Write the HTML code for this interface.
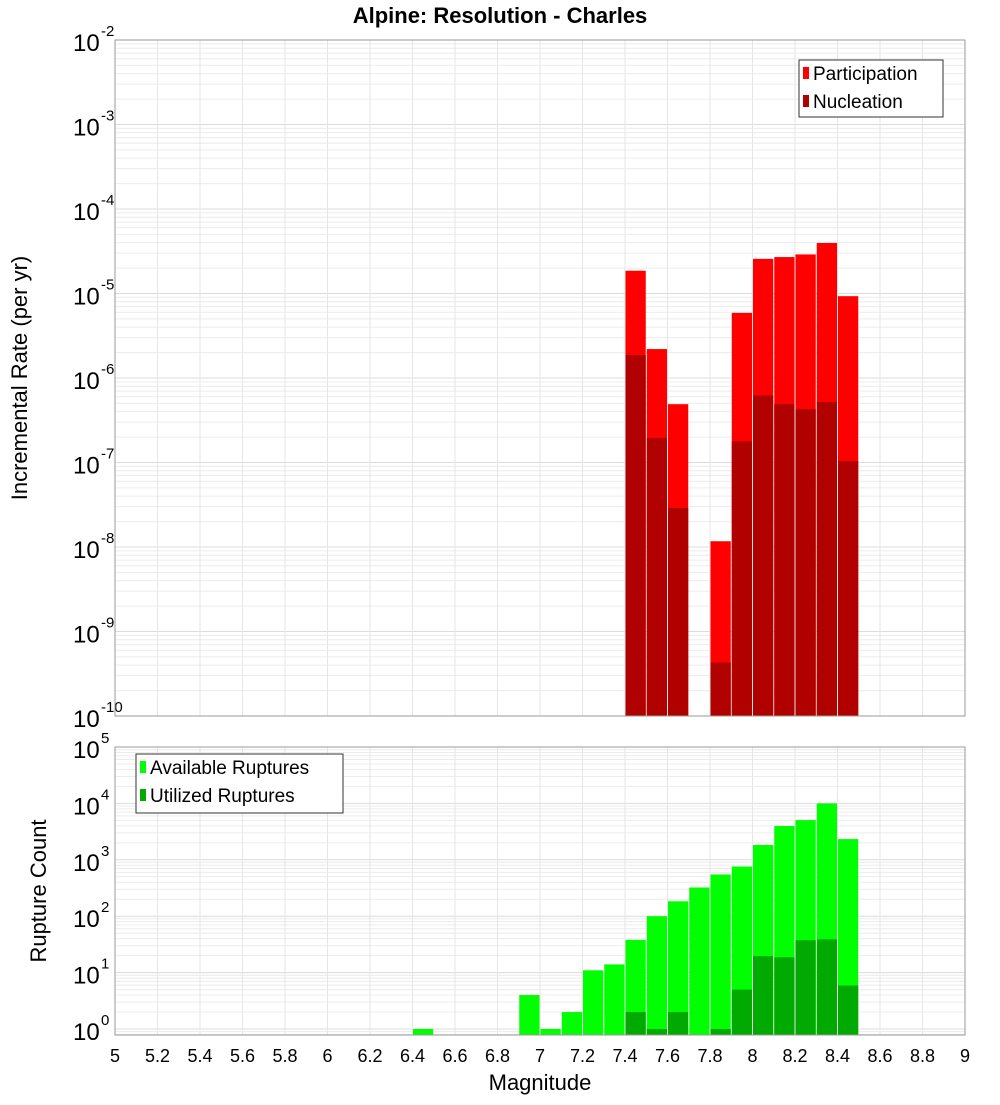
<!DOCTYPE html>
<html><head><meta charset="utf-8"><style>
body{margin:0;background:#fff;}
svg text{font-family:"Liberation Sans","DejaVu Sans",sans-serif;fill:#000;}
</style></head><body>
<svg id="chart" width="1000" height="1100" xmlns="http://www.w3.org/2000/svg">
<rect width="1000" height="1100" fill="#fff"/>
<text x="500" y="23" font-size="22" font-weight="bold" text-anchor="middle">Alpine: Resolution - Charles</text>
<g id="topPanel"></g>
<g id="botPanel"></g>
<text transform="translate(27,378) rotate(-90)" font-size="22" text-anchor="middle">Incremental Rate (per yr)</text>
<text transform="translate(46,891) rotate(-90)" font-size="22" text-anchor="middle">Rupture Count</text>
<text x="540" y="1090" font-size="22" text-anchor="middle">Magnitude</text>
</svg>
<script>
const mags=[7.45,7.55,7.65,7.85,7.95,8.05,8.15,8.25,8.35,8.45];
const participation=[1.86e-5,2.2e-6,4.9e-7,1.17e-8,5.9e-6,2.57e-5,2.7e-5,2.9e-5,3.96e-5,9.3e-6];
const nucleation=[1.87e-6,1.95e-7,2.9e-8,4.3e-10,1.78e-7,6.2e-7,4.9e-7,4.3e-7,5.2e-7,1.04e-7];
const countMags=[6.45,6.95,7.05,7.15,7.25,7.35,7.45,7.55,7.65,7.75,7.85,7.95,8.05,8.15,8.25,8.35,8.45];
const available=[1,4,1,2,11,14,38,100,184,323,550,760,1830,3970,5060,10000,2330];
const utilized=[0,0,0,0,0,0,2,1,2,0,1,5,19.6,18.7,37.6,39,5.9];
const xTicks=[5,5.2,5.4,5.6,5.8,6,6.2,6.4,6.6,6.8,7,7.2,7.4,7.6,7.8,8,8.2,8.4,8.6,8.8,9];
const topExps=[-2,-3,-4,-5,-6,-7,-8,-9,-10];
const botExps=[0,1,2,3,4,5];

const NS="http://www.w3.org/2000/svg";
const X0=115,X1=965;
const xs=m=>X0+(m-5)/4*(X1-X0);
const bw=(X1-X0)/40;
function mk(p,tag,at){const e=document.createElementNS(NS,tag);for(const k in at)e.setAttribute(k,at[k]);p.appendChild(e);return e;}
function panel(g,y0,y1,lmin,lmax,exps,name){
  const ys=v=>y1-(Math.log10(v)-lmin)/(lmax-lmin)*(y1-y0);
  for(let e=Math.floor(lmin);e<lmax;e++){for(let k=1;k<10;k++){const v=k*Math.pow(10,e);const l=Math.log10(v);if(l<lmin||l>lmax)continue;const y=ys(v);
    const gl=mk(g,'line',{x1:X0,x2:X1,y1:y,y2:y,stroke:k==1?'#dcdcdc':'#ececec','stroke-width':1});
    
    }}
  xTicks.forEach(t=>{const gl=mk(g,'line',{x1:xs(t),x2:xs(t),y1:y0,y2:y1,stroke:'#e6e6e6'});
    
    });
  exps.forEach(e=>{const y=ys(Math.pow(10,e));
    const t=mk(g,'text',{x:73,y:y+11,'font-size':24});t.textContent='10';
    
    
    const s=mk(g,'text',{x:101,y:y-4,'font-size':15});s.textContent=String(e);
    
    });
  return ys;
}
const topG=document.getElementById('topPanel'),botG=document.getElementById('botPanel');
const ysT=panel(topG,40,716,-10,-2,topExps,'rate');
mags.forEach((m,i)=>{
  const x=xs(m)-bw/2;
  const r=mk(topG,'rect',{x:x+0.5,y:ysT(participation[i]),width:bw-1,height:716-ysT(participation[i]),fill:'#ff0000'});
  
  
  const n=mk(topG,'rect',{x:x+0.5,y:ysT(nucleation[i]),width:bw-1,height:716-ysT(nucleation[i]),fill:'#b00000'});
  
  
});
const fT=mk(topG,'rect',{x:X0,y:40,width:X1-X0,height:676,fill:'none',stroke:'#999'});



const bmin=-0.106;
const ysB=panel(botG,747,1035,bmin,5,botExps,'count');
countMags.forEach((m,i)=>{
  const x=xs(m)-bw/2;
  const a=mk(botG,'rect',{x:x+0.5,y:ysB(available[i]),width:bw-1,height:1035-ysB(available[i]),fill:'#00ff00'});
  
  
  if(utilized[i]>0){
    const u=mk(botG,'rect',{x:x+0.5,y:ysB(utilized[i]),width:bw-1,height:1035-ysB(utilized[i]),fill:'#00aa00'});
    
    
  }
});
const fB=mk(botG,'rect',{x:X0,y:747,width:X1-X0,height:288,fill:'none',stroke:'#999'});


xTicks.forEach(t=>{const tx=mk(botG,'text',{x:xs(t),y:1062,'font-size':18,'text-anchor':'middle'});tx.textContent=String(t);
  
  });

function legend(g,x,y,w,h,items,name){
  const lg=mk(g,'g',{});
  
  
  mk(lg,'rect',{x:x,y:y,width:w,height:h,fill:'#fff',stroke:'#333'});
  items.forEach((it,i)=>{const yy=y+13+i*28;
    const sw=mk(lg,'rect',{x:x+4,y:yy-6,width:6,height:12,fill:it[1]});
    
    
    const t=mk(lg,'text',{x:x+14,y:yy+7,'font-size':19});t.textContent=it[0];
    
    });
}
legend(topG,799,60,144,57,[['Participation','#ff0000'],['Nucleation','#b00000']],'rate-legend');
legend(botG,136,754,207,59,[['Available Ruptures','#00ff00'],['Utilized Ruptures','#00aa00']],'count-legend');
</script>
</body></html>
